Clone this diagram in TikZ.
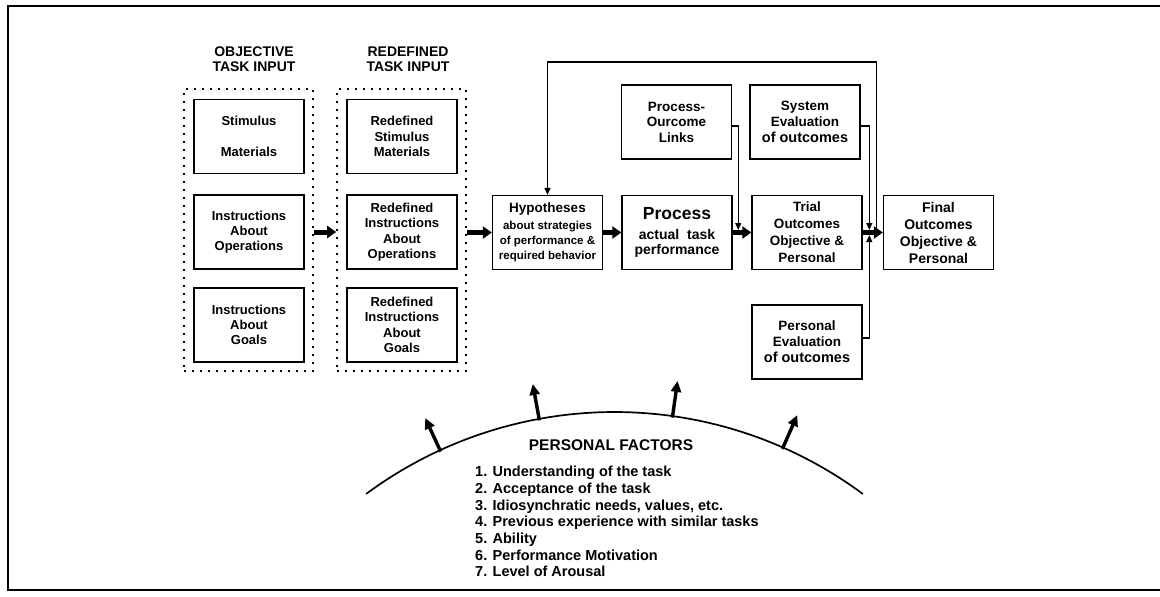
\documentclass[tikz,border=0pt]{standalone}
\usepackage{fontspec}
\setmainfont{Liberation Sans}
\usetikzlibrary{arrows.meta,calc}

\begin{document}
\begin{tikzpicture}[x=1pt,y=-1pt,
  font=\bfseries,
  box/.style={draw, line width=1.3pt, minimum width=110pt, minimum height=74pt,
    inner sep=0pt, align=center, font=\fontsize{13}{15.3}\selectfont\bfseries},
  group/.style={draw, line width=1.6pt, dash pattern=on 1.6pt off 6.4pt,
    minimum width=129pt, minimum height=282pt, inner sep=0pt},
  head/.style={align=center, inner sep=0pt, font=\fontsize{14}{15}\selectfont\bfseries},
  fat/.style={line width=5pt, -{Triangle[length=9pt,width=12pt]}},
  small/.style={line width=1.2pt, -{Triangle[length=7pt,width=6pt]}},
  ray/.style={line width=3.4pt, -{Triangle[length=11pt,width=10pt]}}
]
\useasboundingbox (0,0) rectangle (1160,597);

% outer frame (open on the right)
\draw[line width=2.4pt] (1160,6) -- (8,6) -- (8,590) -- (1160,590);

% task input columns
\node[head] (objhead) at (254,59.5) {OBJECTIVE\\TASK INPUT};
\node[head] (redhead) at (408,59.5) {REDEFINED\\TASK INPUT};

\node[group] (objgrp) at (248.5,230) {};
\node[group] (redgrp) at (401.5,230) {};

\node[box] (stim) at (249,136.5) {Stimulus\\[16pt]Materials};
\node[box] (ops)  at (249,232) {Instructions\\About\\Operations};
\node[box] (goal) at (249,325) {Instructions\\About\\Goals};

\node[box] (rstim) at (402,136.5) {Redefined\\Stimulus\\Materials};
\node[box] (rops)  at (402,232) {Redefined\\Instructions\\About\\Operations};
\node[box] (rgoal) at (402,325) {Redefined\\Instructions\\About\\Goals};

% main chain
\node[box] (hyp) at (547.5,232.5)
  {{\fontsize{13.5}{15}\selectfont Hypotheses}\\[1pt]
   {\fontsize{11.5}{13}\selectfont about strategies}\\
   {\fontsize{11.5}{13}\selectfont of performance \&}\\
   {\fontsize{11.5}{13}\selectfont required behavior}};
\node[box] (proc) at (677,232.5)
  {{\fontsize{17.5}{20}\selectfont Process}\\[5pt]
   {\fontsize{14}{17}\selectfont actual\ \ task}\\
   {\fontsize{14}{17}\selectfont performance}};
\node[box, font=\fontsize{13.5}{17}\selectfont\bfseries] (trial) at (807,232.5)
  {Trial\\Outcomes\\Objective \&\\Personal};
\node[box, font=\fontsize{14}{17}\selectfont\bfseries] (final) at (938.5,232.5)
  {Final\\Outcomes\\Objective \&\\Personal};

% evaluation boxes
\node[box, font=\fontsize{13.5}{15.5}\selectfont\bfseries] (pol) at (676.5,122)
  {Process-\\Ourcome\\Links};
\node[box, font=\fontsize{13.5}{16}\selectfont\bfseries] (sys) at (805,122)
  {System\\Evaluation\\{\fontsize{14.5}{18}\selectfont of outcomes}};
\node[box, font=\fontsize{13.5}{16}\selectfont\bfseries] (pe) at (807,342)
  {Personal\\Evaluation\\{\fontsize{14.5}{18}\selectfont of outcomes}};

% junction points on the thick arrows
\coordinate (j1) at ($(proc.east)!0.3!(trial.west)$);
\coordinate (j2) at ($(trial.east)!0.33!(final.west)$);
\coordinate (j3) at ($(trial.east)!0.67!(final.west)$);
\coordinate (fbtop) at (0,62);

% thick flow arrows
\draw[fat] (objgrp.east |- ops.center) -- (redgrp.west |- ops.center);
\draw[fat] (redgrp.east |- hyp.center) -- (hyp.west);
\draw[fat] (hyp) -- (proc);
\draw[fat] (proc) -- (trial);
\draw[fat] (trial) -- (final);

% thin feeding lines
\draw[small, shorten >=2.5pt] ([yshift=-4pt]pol.east) -| (j1);
\draw[small, shorten >=2.5pt] ([yshift=-4pt]sys.east) -| (j2);
\draw[small, shorten >=2.5pt] ([yshift=4pt]pe.east) -| (j2);
\draw[small] (j3) -- (j3 |- fbtop) -| (hyp.north);

% personal factors dome
\coordinate (arcc) at (614.5,829.5);
\draw[line width=1.7pt, domain=233.5:306.5, samples=90, variable=\t]
  plot ({614.5+417.5*cos(\t)},{829.5+417.5*sin(\t)});
\foreach \a in {245.3,259.6,278,293.8}
  \draw[ray] ($(arcc)+(\a:416)$) -- ($(arcc)+(\a:453)$);

\node[inner sep=0pt, font=\fontsize{15.5}{18}\selectfont\bfseries] (pftitle) at (611,445)
  {PERSONAL FACTORS};
\node[anchor=north west, inner sep=0pt, align=left,
  font=\fontsize{14.5}{16.7}\selectfont\bfseries] (pflist) at (475,466)
  {1. Understanding of the task\\
   2. Acceptance of the task\\
   3. Idiosynchratic needs, values, etc.\\
   4. Previous experience with similar tasks\\
   5. Ability\\
   6. Performance Motivation\\
   7. Level of Arousal};
\end{tikzpicture}
\end{document}
